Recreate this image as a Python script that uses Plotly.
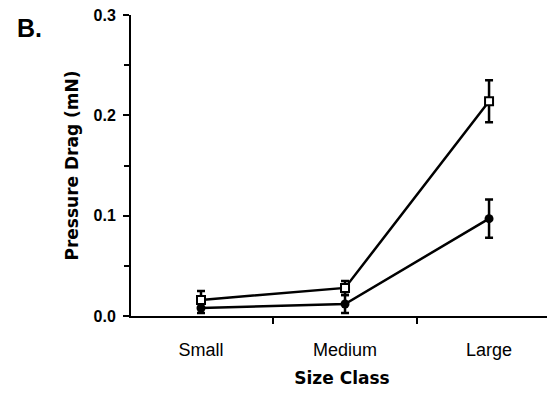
import plotly.graph_objects as go

# size classes and mean pressure drag (mN) with error bars
size_class = ["Small", "Medium", "Large"]
open_mean = [0.016, 0.028, 0.214]
open_err = [0.009, 0.007, 0.021]
filled_mean = [0.008, 0.012, 0.097]
filled_err = [0.005, 0.009, 0.019]

FONT = "Liberation Sans, Arial, sans-serif"
WIDE = "DejaVu Sans, sans-serif"

fig = go.Figure()

fig.add_trace(go.Scatter(
    x=size_class, y=filled_mean,
    mode="lines+markers",
    line=dict(color="black", width=2.5),
    marker=dict(symbol="circle", size=9, color="black"),
    error_y=dict(type="data", array=filled_err, color="black", thickness=2.5, width=4),
    cliponaxis=False,
))
fig.add_trace(go.Scatter(
    x=size_class, y=open_mean,
    mode="lines+markers",
    line=dict(color="black", width=2.5),
    marker=dict(symbol="square", size=8, color="white", line=dict(color="black", width=2)),
    error_y=dict(type="data", array=open_err, color="black", thickness=2.5, width=4),
    cliponaxis=False,
))

# the page body has an 8px margin, so margins are offset to line the plot up
fig.update_layout(
    width=555, height=395,
    margin=dict(l=123, r=10, t=7, b=87),
    paper_bgcolor="white", plot_bgcolor="white",
    showlegend=False,
    font=dict(family=FONT, color="black"),
    xaxis=dict(
        type="category", range=[-0.486, 2.444], automargin=False,
        showline=True, linecolor="black", linewidth=2,
        ticks="outside", tickson="boundaries", ticklen=6, tickwidth=2, tickcolor="black",
        showgrid=False, zeroline=False,
        tickfont=dict(size=18, family=FONT),
        ticklabelstandoff=16,
        title=dict(text="<b>Size Class</b>", font=dict(size=17, family=WIDE), standoff=14),
    ),
    yaxis=dict(
        range=[0, 0.3], dtick=0.1, tickformat=".1f", automargin=False,
        showline=True, linecolor="black", linewidth=2,
        ticks="outside", ticklen=6, tickwidth=2, tickcolor="black",
        minor=dict(dtick=0.05, ticks="outside", ticklen=5, tickwidth=2, tickcolor="black"),
        showgrid=False, zeroline=False,
        tickfont=dict(size=16, family=FONT, weight="bold"),
        ticklabelstandoff=4, ticklabeloverflow="allow",
        title=dict(text="<b>Pressure Drag (mN)</b>", font=dict(size=17, family=WIDE), standoff=11),
    ),
    annotations=[dict(
        text="<b>B.</b>", xref="paper", yref="paper", x=-0.275, y=0.957,
        xanchor="left", yanchor="middle", showarrow=False,
        font=dict(size=25, family=FONT),
    )],
)

fig.write_html("out.html")
